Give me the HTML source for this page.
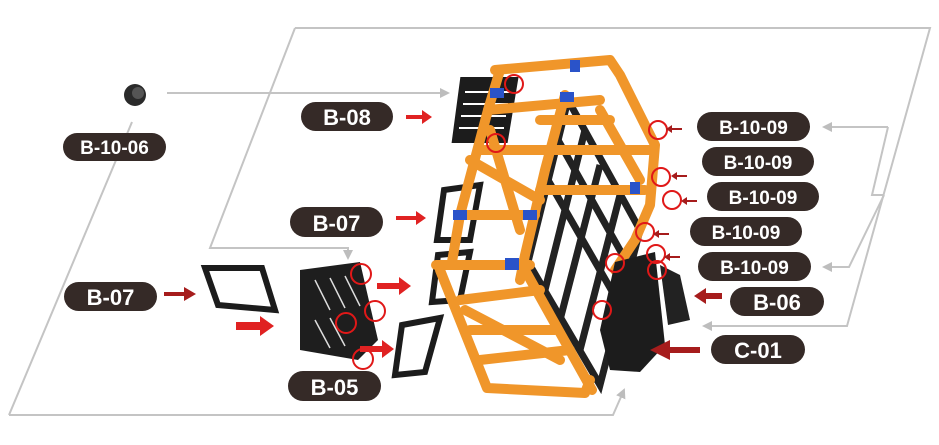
<!DOCTYPE html>
<html><head><meta charset="utf-8"><style>
html,body{margin:0;padding:0;background:#fff;}
svg{display:block}
.lb{font-family:"Liberation Sans",Arial,sans-serif;font-weight:bold;fill:#fff;text-anchor:middle}
</style></head><body>
<svg width="939" height="445" viewBox="0 0 939 445" xmlns="http://www.w3.org/2000/svg">
<defs>
<marker id="ga" markerWidth="10" markerHeight="10" refX="8" refY="5" orient="auto" markerUnits="userSpaceOnUse"><path d="M0,0 L10,5 L0,10 Z" fill="#bdbdbd"/></marker>
</defs>
<g fill="none" stroke="#c4c4c4" stroke-width="2">
<polyline points="295,28 930,28 847,326 704,326" marker-end="url(#ga)"/>
<polyline points="295,28 210,248 348,248 348,258" marker-end="url(#ga)"/>
<line x1="132" y1="122" x2="9" y2="415"/>
<polyline points="9,415 613,415 624,390" marker-end="url(#ga)"/>
<line x1="167" y1="93" x2="448" y2="93" marker-end="url(#ga)"/>
<polyline points="888,127 824,127" marker-end="url(#ga)"/>
<polyline points="888,127 872,195 884,195"/>
<polyline points="884,195 849,267 824,267" marker-end="url(#ga)"/>
</g>
<circle cx="135" cy="95" r="11" fill="#2a2a2a"/><circle cx="138" cy="93" r="6" fill="#555"/>
<g fill="none" stroke="#1c1c1c" stroke-width="6">
<path d="M463,80 L515,80 L505,140 L455,140 Z" fill="#1c1c1c"/>
<path d="M444,190 L480,185 L470,240 L437,240 Z"/>
<path d="M438,255 L470,252 L460,300 L432,302 Z"/>
<path d="M402,325 L440,318 L425,372 L395,375 Z"/>
<path d="M205,268 L262,268 L275,310 L218,305 Z"/>
</g>
<g fill="none" stroke="#fff" stroke-width="2"><line x1="465" y1="92" x2="510" y2="92"/><line x1="463" y1="104" x2="508" y2="104"/><line x1="461" y1="116" x2="506" y2="116"/><line x1="459" y1="128" x2="504" y2="128"/></g>
<path d="M300,270 L360,262 L378,340 L358,360 L300,350 Z" fill="#1e1e1e"/>
<g stroke="#ddd" stroke-width="1.5"><line x1="315" y1="280" x2="330" y2="310"/><line x1="330" y1="278" x2="345" y2="308"/><line x1="345" y1="276" x2="360" y2="306"/><line x1="315" y1="320" x2="330" y2="348"/><line x1="330" y1="318" x2="345" y2="346"/></g>
<g fill="none" stroke="#222" stroke-width="7">
<polygon points="568,100 640,230 600,385 528,262"/>
<line x1="548" y1="180" x2="620" y2="305"/><line x1="600" y1="165" x2="560" y2="320"/>
<line x1="558" y1="140" x2="630" y2="268"/><line x1="585" y1="130" x2="545" y2="290"/>
<line x1="620" y1="195" x2="580" y2="350"/>
</g>
<g fill="none" stroke="#f0962a" stroke-width="10" stroke-linecap="round" stroke-linejoin="round">
<polyline points="495,70 610,60 620,75 655,145 650,205 635,240 615,270"/>
<polyline points="500,70 488,110 460,215 452,262"/>
<polyline points="565,95 545,170 525,255 520,280"/>
<polyline points="436,265 530,265"/>
<polyline points="440,270 487,388 585,393 590,380"/>
<polyline points="525,270 592,390"/>
<line x1="488" y1="110" x2="600" y2="100"/><line x1="480" y1="150" x2="650" y2="150"/>
<line x1="460" y1="215" x2="535" y2="215"/><line x1="540" y1="190" x2="645" y2="190"/>
<line x1="470" y1="160" x2="540" y2="200"/><line x1="490" y1="130" x2="520" y2="230"/>
<line x1="460" y1="300" x2="540" y2="290"/><line x1="470" y1="330" x2="555" y2="330"/>
<line x1="480" y1="360" x2="570" y2="350"/><line x1="465" y1="310" x2="560" y2="360"/>
<line x1="600" y1="110" x2="640" y2="180"/><line x1="540" y1="120" x2="610" y2="120"/>
</g>
<g fill="#2a53c9"><rect x="490" y="88" width="14" height="10"/><rect x="560" y="92" width="14" height="10"/><rect x="453" y="210" width="14" height="10"/><rect x="523" y="210" width="14" height="10"/><rect x="505" y="258" width="14" height="12"/><rect x="630" y="182" width="10" height="12"/><rect x="570" y="60" width="10" height="12"/></g>
<path d="M615,262 L655,252 L665,345 L640,372 L610,370 L600,330 Z" fill="#1c1c1c"/>
<path d="M660,265 L680,275 L690,320 L668,325 Z" fill="#222"/>
<g fill="none" stroke="#e01818" stroke-width="2">
<circle cx="514" cy="84" r="9"/><circle cx="496" cy="143" r="9"/><circle cx="658" cy="130" r="9"/><circle cx="661" cy="177" r="9"/><circle cx="672" cy="200" r="9"/><circle cx="645" cy="232" r="9"/><circle cx="615" cy="263" r="9"/><circle cx="656" cy="254" r="9"/><circle cx="657" cy="270" r="9"/><circle cx="602" cy="310" r="9"/>
<circle cx="361" cy="274" r="10"/><circle cx="375" cy="311" r="10"/><circle cx="346" cy="323" r="10"/><circle cx="363" cy="359" r="10"/>
</g>
<g fill="#e02222">
<path d="M406,115 h16 v-5 l10,7 l-10,7 v-5 h-16 z"/>
<path d="M396,216 h20 v-5 l10,7 l-10,7 v-5 h-20 z"/>
<path d="M236,322 h24 v-6 l14,10 l-14,10 v-6 h-24 z"/>
<path d="M377,283 h22 v-6 l12,9 l-12,9 v-6 h-22 z"/>
<path d="M360,346 h22 v-6 l12,9 l-12,9 v-6 h-22 z"/>
</g>
<g fill="#a61c1c">
<path d="M164,292 h20 v-5 l12,7 l-12,7 v-5 h-20 z"/>
<path d="M722,293 h-16 v-5 l-12,8 l12,8 v-5 h16 z"/>
<path d="M700,347 h-30 v-7 l-20,10 l20,10 v-7 h30 z"/>
<path d="M682,128 h-10 v-3 l-6,4 l6,4 v-3 h10z"/><path d="M687,175 h-10 v-3 l-6,4 l6,4 v-3 h10z"/><path d="M697,200 h-10 v-3 l-6,4 l6,4 v-3 h10z"/><path d="M669,233 h-10 v-3 l-6,4 l6,4 v-3 h10z"/><path d="M680,256 h-10 v-3 l-6,4 l6,4 v-3 h10z"/>
</g>
<g fill="#352a27">
<rect x="63" y="133" width="103" height="28" rx="14"/>
<rect x="301" y="102" width="92" height="29" rx="14.5"/>
<rect x="290" y="207" width="93" height="30" rx="15"/>
<rect x="64" y="282" width="93" height="29" rx="14.5"/>
<rect x="288" y="371" width="93" height="30" rx="15"/>
<rect x="697" y="112" width="113" height="29" rx="14.5"/>
<rect x="702" y="147" width="112" height="29" rx="14.5"/>
<rect x="707" y="182" width="112" height="29" rx="14.5"/>
<rect x="690" y="217" width="112" height="29" rx="14.5"/>
<rect x="698" y="252" width="113" height="29" rx="14.5"/>
<rect x="730" y="287" width="94" height="29" rx="14.5"/>
<rect x="711" y="335" width="94" height="29" rx="14.5"/>
</g>
<g class="lb">
<text x="114.5" y="154" font-size="19">B-10-06</text>
<text x="347" y="125" font-size="22">B-08</text>
<text x="336.5" y="231" font-size="22">B-07</text>
<text x="110.5" y="305" font-size="22">B-07</text>
<text x="334.5" y="395" font-size="22">B-05</text>
<text x="753.5" y="134" font-size="19">B-10-09</text>
<text x="758" y="169" font-size="19">B-10-09</text>
<text x="763" y="204" font-size="19">B-10-09</text>
<text x="746" y="239" font-size="19">B-10-09</text>
<text x="754.5" y="274" font-size="19">B-10-09</text>
<text x="777" y="310" font-size="22">B-06</text>
<text x="758" y="358" font-size="22">C-01</text>
</g>
</svg>
</body></html>
